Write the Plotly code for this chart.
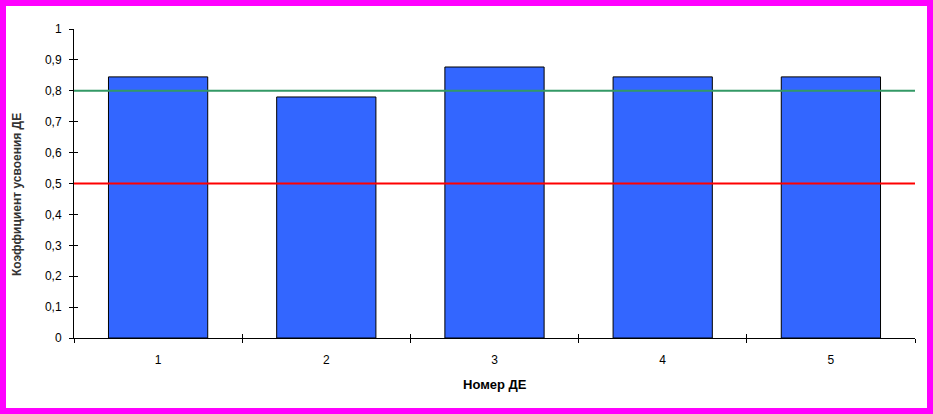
import plotly.graph_objects as go

categories = ["1", "2", "3", "4", "5"]
values = [0.845, 0.78, 0.877, 0.845, 0.845]
upper_level = 0.8
lower_level = 0.5
y_tickvals = [0, 0.1, 0.2, 0.3, 0.4, 0.5, 0.6, 0.7, 0.8, 0.9, 1]
y_ticktext = ["0", "0,1", "0,2", "0,3", "0,4", "0,5", "0,6", "0,7", "0,8", "0,9", "1"]
x_title = "Номер ДЕ"
y_title = "Коэффициент усвоения ДЕ"

W, H = 933, 414
L, R, T, B = 74, 18, 29, 76
pw, ph = W - L - R, H - T - B

font = dict(family="Liberation Sans, Arial, sans-serif", size=12, color="#000000")

fig = go.Figure()
fig.add_trace(go.Bar(
    x=categories, y=values,
    marker=dict(color="#3366FF", line=dict(color="#000000", width=1)),
    hoverinfo="skip", showlegend=False,
))
# invisible trace to host the overlay axes (inner half of crossing ticks)
fig.add_trace(go.Scatter(
    x=categories, y=values, xaxis="x2", yaxis="y2", mode="markers",
    marker=dict(opacity=0), hoverinfo="skip", showlegend=False,
))

fig.add_shape(type="line", xref="paper", yref="y", x0=0, x1=1,
              y0=upper_level, y1=upper_level,
              line=dict(color="#339966", width=2), layer="above")
fig.add_shape(type="line", xref="paper", yref="y", x0=0, x1=1,
              y0=lower_level, y1=lower_level,
              line=dict(color="#FF0000", width=2), layer="above")

# magenta frame around the whole picture
bw = 6
fig.add_shape(type="rect", xref="paper", yref="paper",
              x0=(bw / 2 - L) / pw, x1=(W - bw / 2 - L) / pw,
              y0=-(B - bw / 2) / ph, y1=(ph + T - bw / 2) / ph,
              line=dict(color="#FF00FF", width=bw), fillcolor="rgba(0,0,0,0)",
              layer="above")

fig.add_annotation(text="<b>" + x_title + "</b>", xref="paper", yref="paper",
                   x=0.5, y=-(384 - (T + ph)) / ph, xanchor="center", yanchor="middle",
                   showarrow=False, font=dict(family=font["family"], size=13, color="#000000"))
fig.add_annotation(text="<b>" + y_title + "</b>", xref="paper", yref="paper",
                   x=(17 - L) / pw, y=(T + ph - 195) / ph, xanchor="center", yanchor="middle",
                   textangle=-90, showarrow=False,
                   font=dict(family=font["family"], size=12, color="#333333"))

fig.update_layout(
    width=W, height=H,
    margin=dict(l=L, r=R, t=T, b=B, autoexpand=False),
    paper_bgcolor="#FFFFFF", plot_bgcolor="#FFFFFF",
    font=font,
    bargap=0.41,
    xaxis=dict(type="category", tickson="boundaries", ticks="outside", ticklen=4,
               tickcolor="#000000", showline=True, linecolor="#000000", linewidth=1,
               showgrid=False, zeroline=False, tickfont=font, ticklabelstandoff=11,
               range=[-0.5, 4.5], fixedrange=True),
    yaxis=dict(range=[0, 1], tickvals=y_tickvals, ticktext=y_ticktext,
               ticks="outside", ticklen=4, tickcolor="#000000",
               showline=True, linecolor="#000000", linewidth=1,
               showgrid=False, zeroline=False, tickfont=font, ticklabelstandoff=5,
               fixedrange=True),
    xaxis2=dict(type="category", overlaying="x", anchor="y2", tickson="boundaries",
                ticks="inside", ticklen=4, tickcolor="#000000", showticklabels=False,
                showline=False, showgrid=False, zeroline=False, range=[-0.5, 4.5],
                side="bottom", fixedrange=True),
    yaxis2=dict(overlaying="y", anchor="x2", range=[0, 1], tickvals=y_tickvals,
                ticks="inside", ticklen=4, tickcolor="#000000", showticklabels=False,
                showline=False, showgrid=False, zeroline=False, side="left",
                fixedrange=True),
    showlegend=False,
)

fig.write_html("out.html", config={"displayModeBar": False},
               post_script="document.body.style.margin='0';document.body.style.overflow='hidden';")
